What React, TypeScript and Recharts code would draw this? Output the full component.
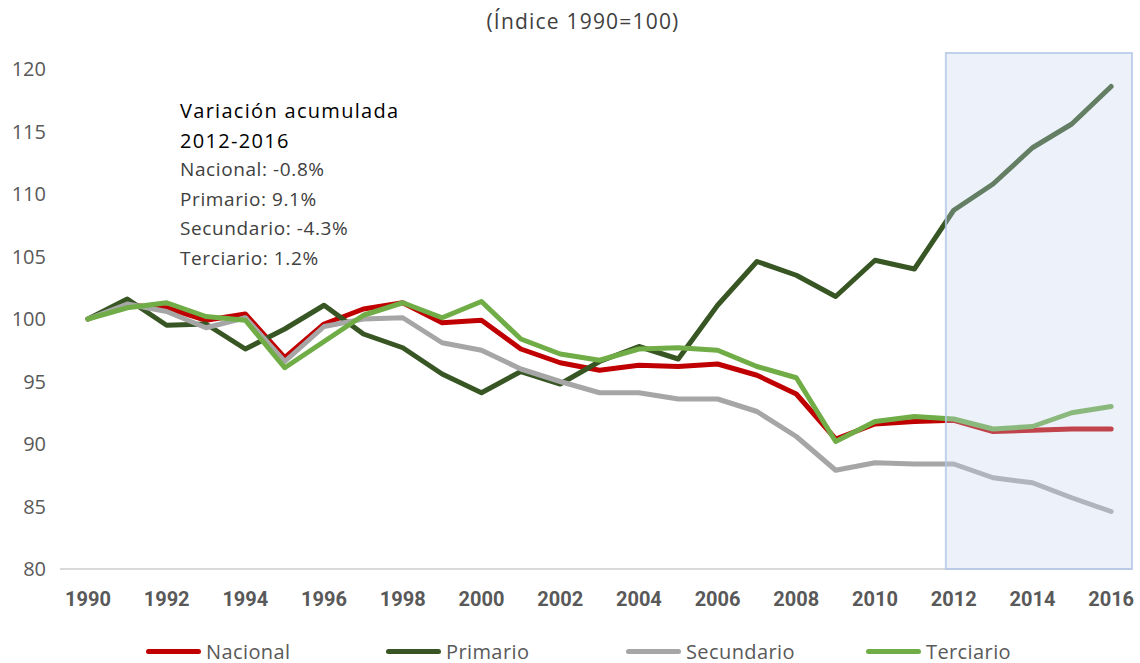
import React from "react";
import { LineChart, Line, XAxis, YAxis, ReferenceArea } from "recharts";

const years = [
  1990, 1991, 1992, 1993, 1994, 1995, 1996, 1997, 1998, 1999, 2000, 2001, 2002,
  2003, 2004, 2005, 2006, 2007, 2008, 2009, 2010, 2011, 2012, 2013, 2014, 2015,
  2016,
];

const nacional = [
  100, 101.1, 100.9, 99.9, 100.4, 96.9, 99.6, 100.8, 101.3, 99.7, 99.9, 97.6,
  96.5, 95.9, 96.3, 96.2, 96.4, 95.5, 94.0, 90.4, 91.6, 91.8, 91.9, 91.0, 91.1,
  91.2, 91.2,
];
const primario = [
  100, 101.6, 99.5, 99.6, 97.6, 99.2, 101.1, 98.8, 97.7, 95.6, 94.1, 95.8,
  94.8, 96.6, 97.8, 96.8, 101.1, 104.6, 103.5, 101.8, 104.7, 104.0, 108.7,
  110.8, 113.7, 115.6, 118.6,
];
const secundario = [
  100, 101.2, 100.6, 99.3, 100.1, 96.6, 99.4, 100.0, 100.1, 98.1, 97.5, 96.0,
  95.0, 94.1, 94.1, 93.6, 93.6, 92.6, 90.6, 87.9, 88.5, 88.4, 88.4, 87.3, 86.9,
  85.7, 84.6,
];
const terciario = [
  100, 100.9, 101.3, 100.2, 99.9, 96.1, 98.2, 100.3, 101.3, 100.1, 101.4, 98.4,
  97.2, 96.7, 97.6, 97.7, 97.5, 96.2, 95.3, 90.2, 91.8, 92.2, 92.0, 91.2, 91.4,
  92.5, 93.0,
];

const yearTicks = [
  1990, 1992, 1994, 1996, 1998, 2000, 2002, 2004, 2006, 2008, 2010, 2012, 2014,
  2016,
];
const valueTicks = [80, 85, 90, 95, 100, 105, 110, 115, 120];

const series = [
  { key: "nacional", name: "Nacional", color: "#C00000" },
  { key: "primario", name: "Primario", color: "#375623" },
  { key: "secundario", name: "Secundario", color: "#A6A6A6" },
  { key: "terciario", name: "Terciario", color: "#70AD47" },
];

const notes = [
  "Nacional: -0.8%",
  "Primario: 9.1%",
  "Secundario: -4.3%",
  "Terciario: 1.2%",
];

const data = years.map((year, i) => ({
  year,
  nacional: nacional[i],
  primario: primario[i],
  secundario: secundario[i],
  terciario: terciario[i],
}));

const FONT = "'Open Sans', 'DejaVu Sans', sans-serif";

function LegendRow() {
  return (
    <div
      style={{
        position: "absolute",
        left: 146,
        top: 638,
        display: "flex",
        fontFamily: FONT,
      }}
    >
      {series.map((s) => (
        <div
          key={s.key}
          style={{ width: 240, display: "flex", alignItems: "center" }}
        >
          <div
            style={{
              width: 55,
              height: 5,
              borderRadius: 3,
              background: s.color,
              marginRight: 5,
            }}
          />
          <span style={{ fontSize: 20, color: "#595959", letterSpacing: 0.4 }}>
            {s.name}
          </span>
        </div>
      ))}
    </div>
  );
}

export default function App() {
  return (
    <div
      style={{
        position: "absolute",
        left: 0,
        top: 0,
        width: 1140,
        height: 663,
        background: "#fff",
        fontFamily: FONT,
      }}
    >
      <div
        style={{
          position: "absolute",
          top: 7,
          left: 0,
          width: 1166,
          textAlign: "center",
          fontSize: 21,
          letterSpacing: 1.2,
          color: "#404040",
        }}
      >
        (Índice 1990=100)
      </div>

      <LineChart
        width={1140}
        height={663}
        data={data}
        margin={{ top: 53, right: 8, bottom: 0, left: 0 }}
      >
        <XAxis
          dataKey="year"
          type="number"
          domain={[1989.29, 2016.53]}
          ticks={yearTicks}
          allowDataOverflow
          tickLine={false}
          tickSize={0}
          tickMargin={23}
          axisLine={{ stroke: "#D9D9D9", strokeWidth: 2 }}
          tick={{
            fill: "#595959",
            fontSize: 20,
            fontWeight: 700,
            fontFamily: "Roboto, sans-serif",
          }}
          height={94}
        />
        <YAxis
          domain={[80, 121.28]}
          ticks={valueTicks}
          allowDataOverflow
          axisLine={false}
          tickLine={false}
          tickSize={0}
          tickMargin={14}
          width={60}
          tick={{ fill: "#595959", fontSize: 20, fontFamily: FONT }}
        />
        {series.map((s) => (
          <Line
            key={s.key}
            dataKey={s.key}
            name={s.name}
            stroke={s.color}
            strokeWidth={5}
            strokeLinejoin="round"
            strokeLinecap="round"
            dot={false}
            activeDot={false}
            isAnimationActive={false}
          />
        ))}
        {/* highlighted 2012-2016 window, drawn over the lines */}
        <ReferenceArea
          x1={2011.8}
          x2={2016.53}
          y1={80}
          y2={121.28}
          ifOverflow="visible"
          fill="#C5D5EE"
          fillOpacity={0.32}
          stroke="#B4C7E7"
          strokeOpacity={0.8}
          strokeWidth={2}
          zIndex={1000}
        />
      </LineChart>

      <LegendRow />

      <div
        style={{
          position: "absolute",
          left: 180,
          top: 96,
          color: "#000",
          lineHeight: "29.6px",
        }}
      >
        <div style={{ fontSize: 20, fontWeight: 500, letterSpacing: 1.3 }}>
          Variación acumulada
        </div>
        <div style={{ fontSize: 20, fontWeight: 500, letterSpacing: 1.3 }}>
          2012-2016
        </div>
        {notes.map((t) => (
          <div
            key={t}
            style={{ fontSize: 19, color: "#404040", letterSpacing: 0.6 }}
          >
            {t}
          </div>
        ))}
      </div>
    </div>
  );
}
